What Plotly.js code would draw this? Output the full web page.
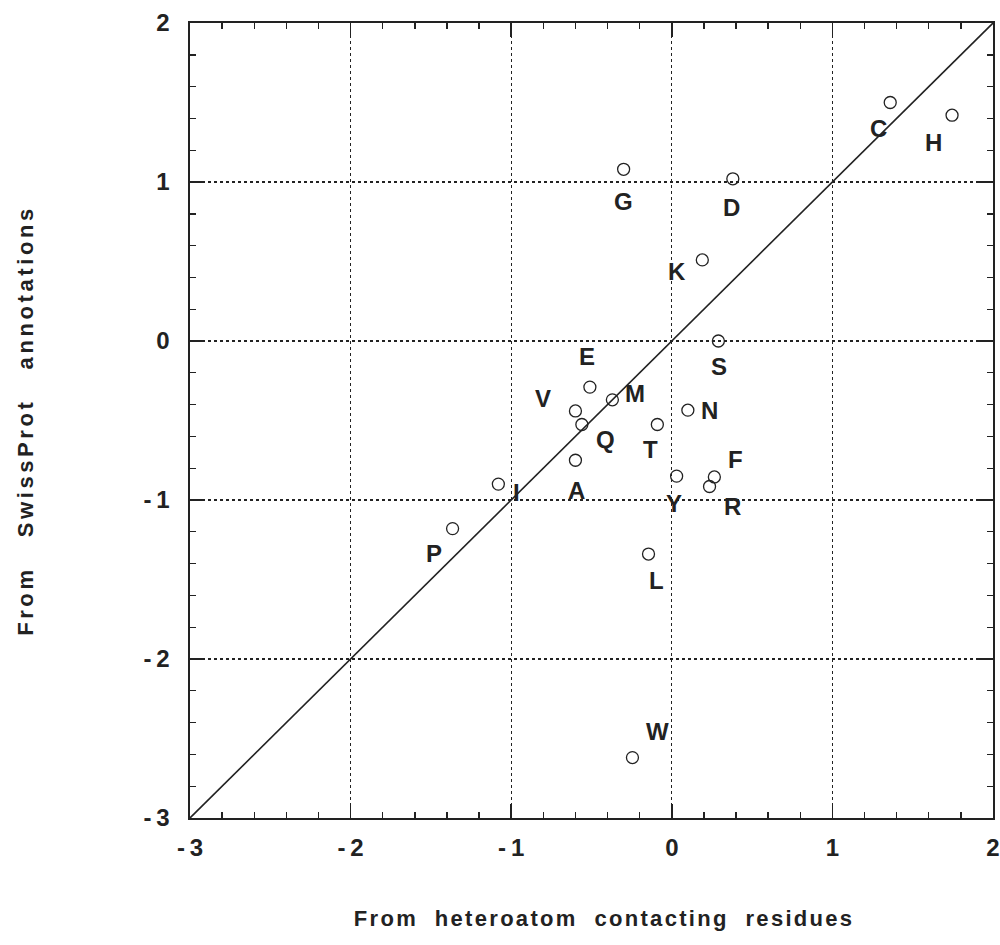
<!DOCTYPE html>
<html>
<head>
<meta charset="utf-8">
<script src="https://cdn.plot.ly/plotly-3.0.1.min.js"></script>
<style>
  html, body { margin: 0; padding: 0; background: #fff; }
  #chart { width: 1000px; height: 945px; }
  .xtitle { letter-spacing: 2.3px; }
  .ytitle { letter-spacing: 3.6px; }
</style>
</head>
<body>
<div id="chart"></div>
<script>
// Amino acid residues
const residues = ["C","H","G","D","K","S","E","M","V","Q","T","N","A","Y","F","R","I","P","L","W"];
// From heteroatom contacting residues (x)
const heteroValues = [1.36, 1.745, -0.30, 0.38, 0.19, 0.29, -0.51, -0.37, -0.60, -0.56, -0.09, 0.10, -0.60, 0.03, 0.265, 0.235, -1.08, -1.365, -0.145, -0.245];
// From SwissProt annotations (y)
const swissValues = [1.50, 1.42, 1.08, 1.02, 0.51, 0.00, -0.29, -0.37, -0.44, -0.525, -0.525, -0.435, -0.75, -0.85, -0.855, -0.915, -0.90, -1.18, -1.34, -2.62];
// Identity line endpoints
const diagonal = [-3, 2];
const xTickVals = [-3, -2, -1, 0, 1, 2];
const xTickText = ["-\u20093", "-\u20092", "-\u20091", "0", "1", "2"];
const yTickVals = [-3, -2, -1, 0, 1, 2];
const yTickText = ["-\u20093", "-\u20092", "-\u20091", "0", "1", "2"];

// label offsets in pixels (dx right, dy up)
const labelShift = {
  C: [-12, -26], H: [-19, -27], G: [0, -32], D: [-1, -29], K: [-25, -12],
  S: [1, -25], E: [-3, 31], M: [23, 6], V: [-32, 12], Q: [24, -15],
  T: [-7, -25], N: [22, 0], A: [1, -30], Y: [-3, -27], F: [21, 17],
  R: [23, -20], I: [18, -8], P: [-19, -25], L: [8, -26], W: [25, 26]
};

const ink = "#222";
const fontFam = "'Liberation Sans', Arial, Helvetica, sans-serif";

const traces = [
  {
    x: diagonal, y: diagonal, mode: "lines", type: "scatter",
    line: { color: ink, width: 1.6 }, hoverinfo: "skip", showlegend: false
  },
  {
    x: heteroValues, y: swissValues, mode: "markers", type: "scatter",
    text: residues,
    marker: { symbol: "circle-open", size: 12, color: ink, line: { color: ink, width: 1.3 } },
    showlegend: false
  }
];

const annotations = residues.map((r, i) => ({
  x: heteroValues[i], y: swissValues[i], xref: "x", yref: "y",
  text: "<b>" + r + "</b>", showarrow: false,
  xshift: labelShift[r][0], yshift: labelShift[r][1],
  font: { family: fontFam, size: 24, color: ink }
}));

const axisCommon = {
  showline: true, mirror: "ticks", linecolor: ink, linewidth: 1.6,
  showgrid: true, gridcolor: ink, griddash: "dot", gridwidth: 1.4,
  zeroline: false, ticks: "inside", ticklen: 14, tickwidth: 1.6, tickcolor: ink,
  tickmode: "array",
  tickfont: { family: fontFam, size: 24, color: ink, weight: "bold" },
  minor: { dtick: 0.2, tick0: 0, ticks: "inside", ticklen: 6, tickwidth: 1.4, tickcolor: ink, showgrid: false }
};

const layout = {
  width: 1000, height: 945,
  margin: { l: 190, r: 7, t: 23, b: 127 },
  paper_bgcolor: "#fff", plot_bgcolor: "#fff",
  xaxis: Object.assign({}, axisCommon, {
    range: [-3, 2], tickvals: xTickVals, ticktext: xTickText, ticklabelstandoff: 8,
    title: { text: "<b>&nbsp;&nbsp;&nbsp;From&nbsp; heteroatom&nbsp; contacting&nbsp; residues</b>", standoff: 50,
             font: { family: fontFam, size: 22, color: ink } }
  }),
  yaxis: Object.assign({}, axisCommon, {
    range: [-3, 2], tickvals: yTickVals, ticktext: yTickText, ticklabelstandoff: 14,
    title: { text: "<b>From&nbsp;&nbsp; SwissProt&nbsp;&nbsp; annotations</b>", standoff: 104,
             font: { family: fontFam, size: 22, color: ink } }
  }),
  annotations: annotations,
  showlegend: false
};

Plotly.newPlot("chart", traces, layout, { displayModeBar: false, staticPlot: true });
</script>
</body>
</html>
